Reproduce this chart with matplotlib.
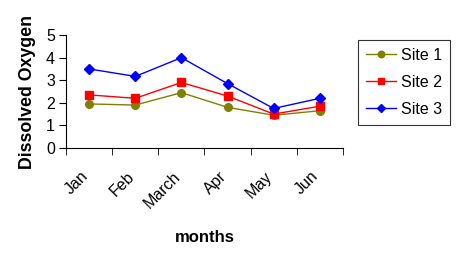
import matplotlib
matplotlib.use("Agg")
import matplotlib.pyplot as plt
import matplotlib.transforms as mtransforms
import numpy as np

months = ["Jan", "Feb", "March", "Apr", "May", "Jun"]
site1 = [1.95, 1.90, 2.45, 1.80, 1.45, 1.65]
site2 = [2.35, 2.20, 2.90, 2.30, 1.50, 1.85]
site3 = [3.50, 3.17, 4.00, 2.85, 1.75, 2.20]

plt.rcParams["font.family"] = ["Liberation Sans", "DejaVu Sans"]

fig = plt.figure(figsize=(4.59, 2.56), dpi=100)
ax = fig.add_axes([0.144, 0.422, 0.603, 0.441])

x = np.arange(len(months))
ax.plot(x, site1, color="#808000", marker="o", ms=5.5, lw=1, label="Site 1")
ax.plot(x, site2, color="#ff0000", marker="s", ms=5.5, lw=1, label="Site 2")
ax.plot(x, site3, color="#0000ff", marker="D", ms=5, lw=1, label="Site 3")

ax.set_xlim(-0.5, len(months) - 0.5)
ax.set_ylim(0, 5)
ax.set_yticks(range(6))
ax.set_xticks(x)
ax.set_xticklabels(months, rotation=45, ha="right", rotation_mode="anchor")
ax.set_xticks(np.arange(-0.5, len(months)), minor=True)
ax.tick_params(axis="x", which="major", length=0, pad=15, labelsize=11.5)
ax.tick_params(axis="x", which="minor", length=5, direction="out")
ax.tick_params(axis="y", length=5, labelsize=11.5, pad=3)

# shift the rotated month labels a bit to the left, like the original
offset = mtransforms.ScaledTranslation(-9 / 100, 0, fig.dpi_scale_trans)
for lab in ax.get_xticklabels():
    lab.set_transform(lab.get_transform() + offset)

for s in ["top", "right"]:
    ax.spines[s].set_visible(False)

fig.text(205 / 459, 1 - 237 / 256, "months", fontweight="bold", fontsize=12,
         ha="center", va="center")
fig.text(28 / 459, 1 - 92 / 256, "Dissolved Oxygen", fontweight="bold",
         fontsize=12.8, rotation=90, ha="center", va="center")

leg = ax.legend(loc="upper left", bbox_to_anchor=(358 / 459, 1 - 40 / 256),
                bbox_transform=fig.transFigure, fontsize=11.5,
                frameon=True, fancybox=False, edgecolor="black",
                handlelength=1.9, handletextpad=0.3, labelspacing=0.75,
                borderpad=0.5, borderaxespad=0, markerscale=0.85)
leg.get_frame().set_linewidth(0.8)

fig.savefig("out.png", dpi=100)
